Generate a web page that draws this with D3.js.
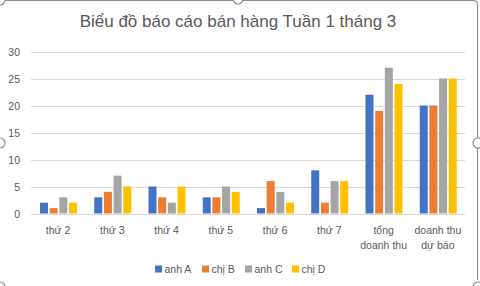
<!DOCTYPE html>
<html lang="vi">
<head>
<meta charset="UTF-8">
<title>Biểu đồ báo cáo bán hàng</title>
<script src="https://cdn.jsdelivr.net/npm/d3@7"></script>
<style>
  body { margin: 0; background: #fff; }
  text { font-family: "Liberation Sans", Arial, sans-serif; fill: #595959; }
</style>
</head>
<body>
<div id="chart"></div>
<script>
// chart data
var categories = ["thứ 2", "thứ 3", "thứ 4", "thứ 5", "thứ 6", "thứ 7", "tổng\ndoanh thu", "doanh thu\ndự báo"];
var seriesNames = ["anh A", "chị B", "anh C", "chị D"];
var anhA = [2, 3, 5, 3, 1, 8, 22, 20];
var chiB = [1, 4, 3, 3, 6, 2, 19, 20];
var anhC = [3, 7, 2, 5, 4, 6, 27, 25];
var chiD = [2, 5, 5, 4, 2, 6, 24, 25];
var yTicks = [0, 5, 10, 15, 20, 25, 30];

var seriesValues = [anhA, chiB, anhC, chiD];
var colors = ["#4472C4", "#ED7D31", "#A5A5A5", "#FFC000"];

var W = 480, H = 286;
var plot = {left: 31, right: 465, top: 51.5, bottom: 213.5};

var svg = d3.select("#chart").append("svg")
    .attr("width", W)
    .attr("height", H);

svg.append("rect").attr("width", W).attr("height", H).attr("fill", "#fff");

// frame of the selected chart
svg.append("path")
    .attr("d", "M4,0.5 H473 Q477.5,0.5 477.5,5 V280")
    .attr("fill", "none")
    .attr("stroke", "#8c8c8c")
    .attr("stroke-width", 1.2);
var handles = [[0, 0], [238, -1], [0, 143], [478, 143], [0, 287], [478, 287]];
svg.selectAll("circle.handle")
    .data(handles)
    .enter().append("circle")
    .attr("class", "handle")
    .attr("cx", function(d){ return d[0]; })
    .attr("cy", function(d){ return d[1]; })
    .attr("r", 5)
    .attr("fill", "#fff")
    .attr("stroke", "#8c8c8c")
    .attr("stroke-width", 1.2);

var x0 = d3.scaleBand()
    .domain(categories)
    .range([plot.left, plot.right]);

var x1 = d3.scaleBand()
    .domain(seriesNames)
    .range([9, 46])
    .paddingInner(0.175);

var y = d3.scaleLinear()
    .domain([0, 30])
    .range([plot.bottom, plot.top]);

// gridlines
svg.selectAll("line.grid")
    .data(yTicks)
    .enter().append("line")
    .attr("class", "grid")
    .attr("x1", plot.left)
    .attr("x2", plot.right)
    .attr("y1", function(d){ return Math.round(y(d)) + 0.5; })
    .attr("y2", function(d){ return Math.round(y(d)) + 0.5; })
    .attr("stroke", "#d9d9d9")
    .attr("stroke-width", 1);

// y labels
svg.selectAll("text.ytick")
    .data(yTicks)
    .enter().append("text")
    .attr("class", "ytick")
    .attr("x", 20)
    .attr("y", function(d){ return y(d) + 4; })
    .attr("text-anchor", "end")
    .attr("font-size", 10.5)
    .text(function(d){ return d; });

// bars
var groups = svg.selectAll("g.cat")
    .data(categories)
    .enter().append("g")
    .attr("class", "cat")
    .attr("transform", function(d){ return "translate(" + x0(d) + ",0)"; });

groups.selectAll("rect")
    .data(function(d, i){
        return seriesNames.map(function(s, j){ return {s: s, j: j, v: seriesValues[j][i]}; });
    })
    .enter().append("rect")
    .attr("x", function(d){ return x1(d.s); })
    .attr("width", x1.bandwidth())
    .attr("y", function(d){ return y(d.v); })
    .attr("height", function(d){ return y(0) - y(d.v); })
    .attr("fill", function(d){ return colors[d.j]; });

// x labels
var xl = svg.selectAll("text.xtick")
    .data(categories)
    .enter().append("text")
    .attr("class", "xtick")
    .attr("text-anchor", "middle")
    .attr("font-size", 10.5)
    .attr("x", function(d){ return x0(d) + x0.bandwidth() / 2; })
    .attr("y", 234);

xl.selectAll("tspan")
    .data(function(d){ return d.split("\n"); })
    .enter().append("tspan")
    .attr("x", function(){ return d3.select(this.parentNode).attr("x"); })
    .attr("dy", function(d, i){ return i ? 15 : 0; })
    .text(function(d){ return d; });

// title
svg.append("text")
    .attr("x", 238)
    .attr("y", 27)
    .attr("text-anchor", "middle")
    .attr("font-size", 17)
    .text("Biểu đồ báo cáo bán hàng Tuần 1 tháng 3");

// legend
var legendX = [155, 202, 245, 292];
var legend = svg.selectAll("g.legend")
    .data(seriesNames)
    .enter().append("g")
    .attr("class", "legend")
    .attr("transform", function(d, i){ return "translate(" + legendX[i] + ",265.5)"; });

legend.append("rect")
    .attr("width", 7)
    .attr("height", 7)
    .attr("fill", function(d, i){ return colors[i]; });

legend.append("text")
    .attr("x", 9.5)
    .attr("y", 7.5)
    .attr("font-size", 10.5)
    .text(function(d){ return d; });
</script>
</body>
</html>
